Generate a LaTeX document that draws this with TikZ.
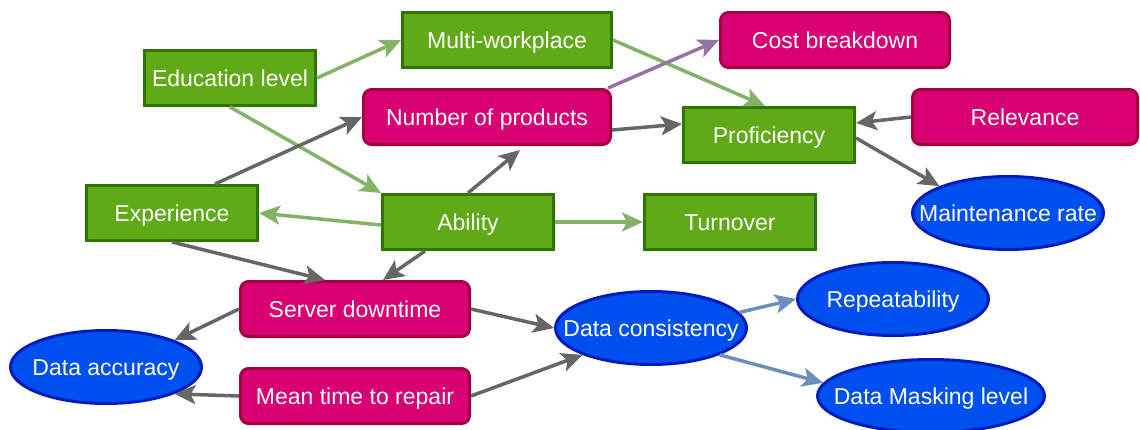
\documentclass[tikz,border=0pt]{standalone}
\usepackage{fontspec}
\setmainfont{Liberation Sans}
\usetikzlibrary{arrows.meta,shapes.geometric}
\definecolor{gfill}{HTML}{60A917}
\definecolor{gline}{HTML}{2D7600}
\definecolor{mfill}{HTML}{D80073}
\definecolor{mline}{HTML}{A50040}
\definecolor{bfill}{HTML}{0050EF}
\definecolor{bline}{HTML}{001DBC}
\definecolor{egray}{HTML}{666666}
\definecolor{egreen}{HTML}{82B366}
\definecolor{epurple}{HTML}{9673A6}
\definecolor{eblue}{HTML}{6C8EBF}
\newcommand{\zw}[1]{\makebox[0pt]{#1}}
\tikzset{
  txt/.style={text=white,font=\fontsize{23}{26}\selectfont,inner sep=0pt,text height=16.5pt,text depth=0pt},
  gbox/.style={txt,rectangle,draw=gline,fill=gfill,line width=3pt,minimum height=55pt},
  mbox/.style={txt,rectangle,rounded corners=8pt,draw=mline,fill=mfill,line width=3pt,minimum height=55pt},
  bell/.style={txt,ellipse,draw=bline,fill=bfill,line width=3pt,minimum height=73pt},
  conn/.style={line width=3.5pt,-{Stealth[length=21pt,width=19pt,inset=5pt]}},
  cgray/.style={conn,draw=egray},
  cgreen/.style={conn,draw=egreen},
  cpurple/.style={conn,draw=epurple},
  cblue/.style={conn,draw=eblue}
}
\begin{document}
\begin{tikzpicture}[x=1pt,y=-1pt]
\useasboundingbox (0,0) rectangle (1140,429);
% green boxes
\node[gbox,minimum width=209pt] (multi) at (507,40) {Multi-workplace};
\node[gbox,minimum width=171pt] (edu) at (230,78) {Education level};
\node[gbox,minimum width=171pt] (prof) at (769,135) {Proficiency};
\node[gbox,minimum width=171pt] (exp) at (172,213) {Experience};
\node[gbox,minimum width=171pt] (abil) at (468,222) {Ability};
\node[gbox,minimum width=171pt] (turn) at (730,222) {Turnover};
% magenta boxes
\node[mbox,minimum width=229pt] (cost) at (835,40) {Cost breakdown};
\node[mbox,minimum width=247pt] (prod) at (487,117) {Number of products};
\node[mbox,minimum width=225pt] (rel) at (1025,117) {Relevance};
\node[mbox,minimum width=229pt] (sd) at (355,309) {Server downtime};
\node[mbox,minimum width=229pt] (mttr) at (355,396) {Mean time to repair};
% blue ellipses
\node[bell,minimum width=191pt] (maint) at (1008,213) {\zw{Maintenance rate}};
\node[bell,minimum width=191pt] (rep) at (893,299) {\zw{Repeatability}};
\node[bell,minimum width=191pt] (dc) at (651,328) {\zw{Data consistency}};
\node[bell,minimum width=191pt] (da) at (106,367) {\zw{Data accuracy}};
\node[bell,minimum width=227pt] (dm) at (931,396) {\zw{Data Masking level}};
% connectors
\draw[cgreen] (edu.east) -- (multi.west);
\draw[cgreen] (edu.south) -- (abil.north west);
\draw[cgreen] (multi.east) -- ([xshift=-4pt]prof.north);
\draw[cpurple] ([xshift=-4pt]prod.north east) -- (cost.west);
\draw[cgray] ([yshift=-13pt]prod.east) -- ([yshift=11pt]prof.west);
\draw[cgray] (rel.west) -- ([yshift=12pt]prof.east);
\draw[cgray] ([yshift=-3pt]prof.east) -- (maint.north west);
\draw[cgray] ([xshift=43pt]exp.north) -- (prod.west);
\draw[cgray] (abil.north) -- ([xshift=33pt,yshift=-4pt]prod.south);
\draw[cgreen] ([yshift=-3pt]abil.west) -- (exp.east);
\draw[cgreen] (abil.east) -- (turn.west);
\draw[cgray] ([xshift=-43pt]abil.south) -- ([xshift=28pt]sd.north);
\draw[cgray] (exp.south) -- ([xshift=-30pt]sd.north);
\draw[cgray] (sd.west) -- (da.north east);
\draw[cgray] (sd.east) -- (dc.west);
\draw[cgray] (mttr.west) -- (da.south east);
\draw[cgray] (mttr.east) -- (dc.south west);
\draw[cblue] (dc.10) -- (rep.west);
\draw[cblue] (dc.south east) -- (dm.173);
\end{tikzpicture}
\end{document}
